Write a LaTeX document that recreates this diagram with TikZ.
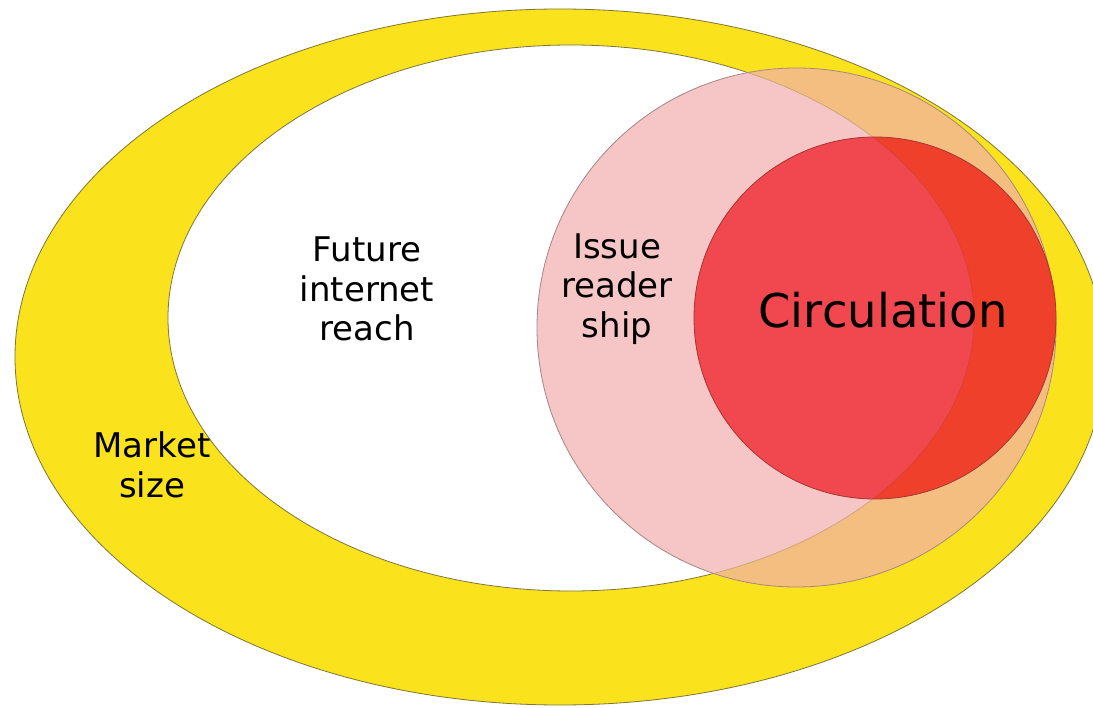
\documentclass[tikz,border=0pt]{standalone}
\usepackage{fontspec}
\setmainfont{DejaVu Sans}
\definecolor{yellowfill}{RGB}{250,226,28}
\definecolor{yellowline}{RGB}{125,118,55}
\definecolor{pinkfill}{RGB}{246,197,197}
\definecolor{orangefill}{RGB}{244,190,128}
\definecolor{pinkline}{RGB}{165,135,135}
\definecolor{redpink}{RGB}{240,72,78}
\definecolor{redorange}{RGB}{238,64,42}
\definecolor{redline}{RGB}{165,55,55}
\begin{document}
\begin{tikzpicture}[x=1pt,y=-1pt,
  lbl/.style={align=center, font=\fontsize{34}{39.5}\selectfont, text=black, inner sep=0pt},
  biglbl/.style={font=\fontsize{46.5}{52}\selectfont, text=black, inner sep=0pt},
  outline/.style={line width=0.8pt}]
\useasboundingbox (0,0) rectangle (1093,708);
\clip (0,0) rectangle (1093,708);
\fill[white] (0,0) rectangle (1093,708);
% market size (outer ellipse)
\filldraw[fill=yellowfill, draw=yellowline, outline] (560,357) ellipse [x radius=545pt, y radius=348pt];
% future internet reach (inner ellipse)
\filldraw[fill=white, draw=yellowline, outline] (571,318) ellipse [x radius=403pt, y radius=273pt];
% issue readership circle
\fill[orangefill] (796.5,327.5) circle [radius=259.5pt];
\begin{scope}
  \clip (796.5,327.5) circle [radius=259.5pt];
  \fill[pinkfill] (571,318) ellipse [x radius=403pt, y radius=273pt];
  \draw[yellowline, outline, opacity=0.35] (571,318) ellipse [x radius=403pt, y radius=273pt];
\end{scope}
\draw[pinkline, outline] (796.5,327.5) circle [radius=259.5pt];
% circulation circle
\fill[redorange] (875,318) circle [radius=181pt];
\begin{scope}
  \clip (875,318) circle [radius=181pt];
  \fill[redpink] (571,318) ellipse [x radius=403pt, y radius=273pt];
  \draw[redline, outline, opacity=0.25] (571,318) ellipse [x radius=403pt, y radius=273pt];
\end{scope}
\draw[redline, outline] (875,318) circle [radius=181pt];
% labels
\node[lbl] (future) at (367,289) {Future\\internet\\reach};
\node[lbl] (issue) at (617,289) {Issue\\reader\\ship};
\node[lbl] (market) at (152,465) {Market\\size};
\node[biglbl] (circ) at (883,310) {Circulation};
\end{tikzpicture}
\end{document}
